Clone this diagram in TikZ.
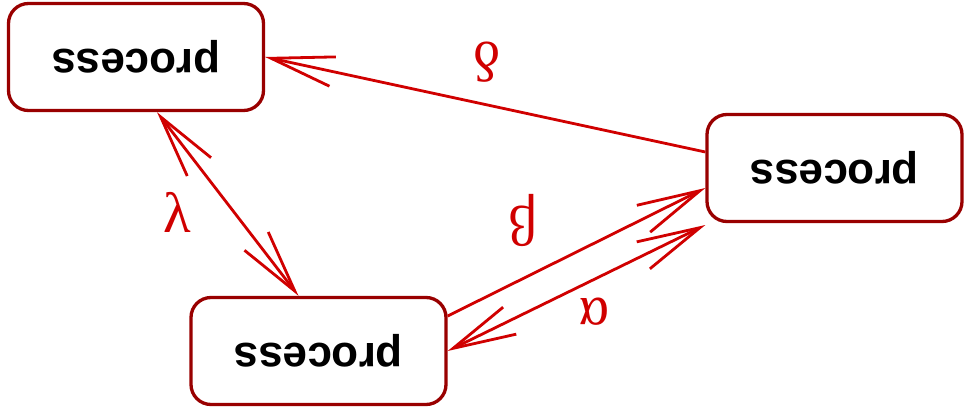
\documentclass[tikz,border=0pt]{standalone}
\usepackage{fontspec}
\usepackage{graphicx}
\setmainfont{Liberation Sans}
\newfontfamily\greekfont{Liberation Serif}
\usetikzlibrary{arrows.meta}
\definecolor{boxred}{HTML}{990000}
\definecolor{edgered}{HTML}{D00000}
\begin{document}
\begin{tikzpicture}[x=1pt,y=-1pt,
  proc/.style={draw=boxred, line width=3.3pt, rounded corners=20pt, fill=white,
    minimum width=255pt, minimum height=107pt, inner sep=0pt,
    font=\fontsize{44}{44}\selectfont\bfseries},
  link/.style={draw=edgered, line width=2.8pt},
  >={Straight Barb[length=63pt,width=30pt,line width=2.8pt]},
  lbl/.style={text=edgered, inner sep=0pt, font=\fontsize{57}{57}\selectfont\greekfont}]
  \useasboundingbox (0,0) rectangle (965,415);

  % the three process boxes (text turned upside down)
  \node[proc] (a) at (136,57)    {\rotatebox{180}{process}};
  \node[proc] (b) at (834.5,168) {\rotatebox{180}{process}};
  \node[proc] (c) at (318.5,351) {\rotatebox{180}{process}};

  % connectors
  \draw[link,->] ([yshift=16pt]b.west) -- (a.east);
  \draw[link,<->] ([xshift=21pt]a.south) -- ([xshift=-20pt]c.north);
  \draw[link,->] ([yshift=35pt]c.east) -- ([yshift=-20pt]b.west);
  \draw[link,<->] ([yshift=-57pt]b.west) -- (c.east);

  % edge labels
  \node[lbl] (ld) at (487,62)  {\rotatebox{180}{δ}};
  \node[lbl] (lb) at (523,220) {\rotatebox{180}{β}};
  \node[lbl] (la) at (595,312) {\rotatebox{180}{α}};
  \node[lbl] (ll) at (177,212) {λ};
\end{tikzpicture}
\end{document}
